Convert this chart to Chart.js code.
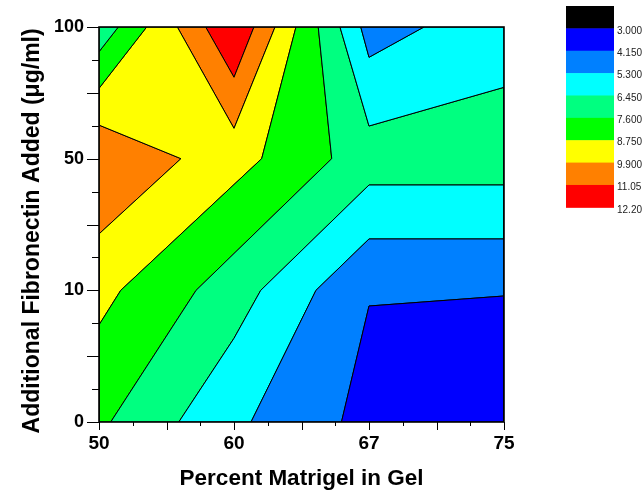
<!DOCTYPE html>
<html>
<head>
<meta charset="utf-8">
<script src="https://cdn.jsdelivr.net/npm/chart.js@4.4.1/dist/chart.umd.min.js"></script>
<style>
  html, body { margin: 0; padding: 0; background: #fff; }
  canvas { display: block; }
</style>
</head>
<body>
<canvas id="c" width="642" height="492"></canvas>
<script>
// ---- Axis categories (evenly spaced on the plot) ----
const xCategories = ['50', '60', '67', '75'];
const yCategories = ['0', '10', '50', '100'];

// ---- Colour scale levels and fills (low at top of the bar) ----
const levels = ['3.000', '4.150', '5.300', '6.450', '7.600', '8.750', '9.900', '11.05', '12.20'];
const bandColors = ['#000000', '#0000FF', '#0080FF', '#00FFFF', '#00FF80', '#00FF00', '#FFFF00', '#FF8000', '#FF0000'];

// ---- Contour regions, [xIndex, yIndex] ----
const band_3_00  = [[1.796,0],[2,0.881],[3,0.957],[3,0]];
const band_4_15a = [[1.126,0],[1.607,1],[2,1.39],[3,1.39],[3,0.957],[2,0.881],[1.796,0]];
const band_4_15b = [[1.939,3],[2,2.77],[2.407,3]];
const band_5_30a = [[0.591,0],[1,0.636],[1.198,1],[2,1.8],[3,1.8],[3,1.39],[2,1.39],[1.607,1],[1.126,0]];
const band_5_30b = [[1.785,3],[2,2.248],[3,2.542],[3,3],[2.407,3],[2,2.77],[1.939,3]];
const band_6_45a = [[0.087,0],[0.719,1],[1.724,2],[1.624,3],[1.785,3],[2,2.248],[3,2.542],[3,1.8],[2,1.8],[1.198,1],[1,0.636],[0.591,0]];
const band_6_45b = [[0,3],[0.143,3],[0,2.812]];
const band_7_60a = [[0,0],[0.087,0],[0.719,1],[1.724,2],[1.624,3],[1.459,3],[1.205,2],[0.161,1],[0,0.737]];
const band_7_60b = [[0.143,3],[0.353,3],[0,2.534],[0,2.812]];
const band_8_75  = [[0,0.737],[0.161,1],[1.205,2],[1.459,3],[1.304,3],[1,2.23],[0.58,3],[0.353,3],[0,2.534],[0,2.255],[0.607,2],[0,1.428]];
const band_9_90a = [[0,2.255],[0.607,2],[0,1.428]];
const band_9_90b = [[0.58,3],[1,2.23],[1.304,3],[1.148,3],[1,2.618],[0.79,3]];
const band_11_05 = [[0.79,3],[1,2.618],[1.148,3]];

const regions = [
  [band_3_00, 1], [band_4_15a, 2], [band_4_15b, 2], [band_5_30a, 3], [band_5_30b, 3],
  [band_6_45a, 4], [band_6_45b, 4], [band_7_60a, 5], [band_7_60b, 5], [band_8_75, 6],
  [band_9_90a, 7], [band_9_90b, 7], [band_11_05, 8]
];

const FONT = "'Liberation Sans', Arial, Helvetica, sans-serif";

const datasets = regions.map(([poly, ci]) => ({
  data: poly.concat([poly[0]]).map(p => ({ x: p[0], y: p[1] })),
  showLine: true,
  fill: 'shape',
  backgroundColor: bandColors[ci],
  borderColor: '#000000',
  borderWidth: 1,
  pointRadius: 0,
  pointHoverRadius: 0,
  tension: 0
}));

const framePlugin = {
  id: 'frameTicksBar',
  afterDraw(chart) {
    const { ctx, chartArea: a, scales: { x, y } } = chart;
    ctx.save();
    ctx.strokeStyle = '#000';
    ctx.lineWidth = 1;
    for (let k = 0; k <= 12; k++) {
      const v = k / 4;
      const major = k % 2 === 0;
      const px = Math.round(x.getPixelForValue(v)) + 0.5;
      ctx.beginPath();
      ctx.moveTo(px, a.bottom);
      ctx.lineTo(px, a.bottom + (major ? 8 : 4));
      ctx.stroke();
      const py = Math.round(y.getPixelForValue(v)) + 0.5;
      ctx.beginPath();
      ctx.moveTo(a.left, py);
      ctx.lineTo(a.left - (major ? 12 : 7), py);
      ctx.stroke();
    }
    ctx.lineWidth = 1.6;
    ctx.strokeRect(a.left, a.top, a.right - a.left, a.bottom - a.top);

    // colour bar
    const bx = 566, bw = 48, by = 6, bh = 22.37;
    for (let i = 0; i < bandColors.length; i++) {
      ctx.fillStyle = bandColors[i];
      ctx.fillRect(bx, by + i * bh, bw, bh + 0.5);
    }
    ctx.fillStyle = '#222';
    ctx.font = '10px ' + FONT;
    ctx.textAlign = 'left';
    ctx.textBaseline = 'middle';
    for (let i = 0; i < levels.length; i++) {
      ctx.fillText(levels[i], 617, by + (i + 1) * bh + 2.5);
    }
    ctx.restore();
  }
};

new Chart(document.getElementById('c'), {
  type: 'scatter',
  data: { datasets },
  options: {
    responsive: false,
    animation: false,
    events: [],
    layout: { padding: { top: 27, right: 138, left: 0, bottom: 0 } },
    plugins: { legend: { display: false }, tooltip: { enabled: false } },
    scales: {
      x: {
        type: 'linear', min: 0, max: 3, position: 'bottom',
        afterFit: s => { s.height = 70; },
        grid: { display: false, drawTicks: true, tickLength: 8 },
        border: { display: false },
        ticks: {
          stepSize: 1, autoSkip: false, maxRotation: 0, padding: 2, color: '#000',
          font: { family: FONT, size: 19, weight: 'bold' },
          callback: v => (Number.isInteger(v) ? xCategories[v] : '')
        },
        title: {
          display: true, text: 'Percent Matrigel in Gel', color: '#000',
          font: { family: FONT, size: 22.5, weight: 'bold', lineHeight: 1 },
          padding: { top: 0, bottom: 1.5 }
        }
      },
      y: {
        type: 'linear', min: 0, max: 3, position: 'left',
        afterFit: s => { s.width = 99; },
        grid: { display: false, drawTicks: true, tickLength: 12 },
        border: { display: false },
        ticks: {
          stepSize: 1, autoSkip: false, padding: 3, color: '#000',
          font: { family: FONT, size: 18, weight: 'bold' },
          callback: v => (Number.isInteger(v) ? yCategories[v] : '')
        },
        title: {
          display: true, text: 'Additional Fibronectin Added (\u03BCg/ml)\u00A0\u00A0', color: '#000',
          font: { family: FONT, size: 23, weight: 'bold', lineHeight: 1 },
          padding: { top: 21, bottom: 0 }
        }
      }
    }
  },
  plugins: [framePlugin]
});
</script>
</body>
</html>
